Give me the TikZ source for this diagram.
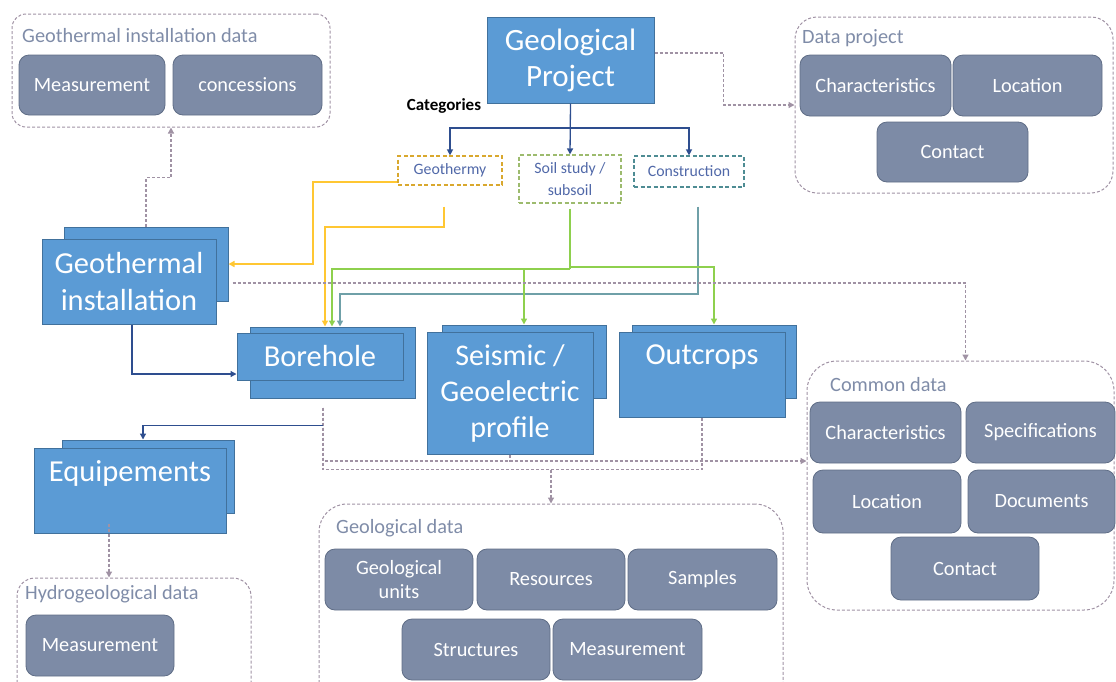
\documentclass[tikz,border=0pt]{standalone}
\usepackage{fontspec}
\setmainfont{Carlito}
\usetikzlibrary{arrows.meta}
\definecolor{bfill}{HTML}{5B9BD5}
\definecolor{bdraw}{HTML}{41719C}
\definecolor{ifill}{HTML}{7D8BA6}
\definecolor{idraw}{HTML}{5F6D86}
\definecolor{cdash}{HTML}{A092A4}
\definecolor{ctitle}{HTML}{7F8CA8}
\definecolor{cattext}{HTML}{5068A8}
\definecolor{bline}{HTML}{2E4E8F}
\definecolor{yline}{HTML}{FFC733}
\definecolor{ybox}{HTML}{D9A82E}
\definecolor{gline}{HTML}{8ED04E}
\definecolor{gbox}{HTML}{9DBB6E}
\definecolor{tline}{HTML}{6FA0A8}
\definecolor{tbox}{HTML}{4E8C93}
\tikzset{
  bbox/.style={draw=bdraw, fill=bfill, line width=1pt, inner sep=0pt, text=white, align=center, font=\fontsize{30.5}{37}\selectfont},
  btext/.style={text=white, inner sep=0pt, font=\fontsize{30.5}{37}\selectfont},
  itembox/.style={draw=idraw, fill=ifill, line width=0.8pt, rounded corners=10pt, inner sep=0pt, text=white, align=center, font=\fontsize{20.3}{24}\selectfont},
  contbox/.style={draw=cdash, line width=1pt, dash pattern=on 3pt off 2pt, rounded corners=20pt, inner sep=0pt},
  conttitle/.style={anchor=west, text=ctitle, inner sep=0pt, font=\fontsize{20.3}{22}\selectfont},
  catbox/.style={line width=1.2pt, dash pattern=on 4pt off 2.5pt, inner sep=0pt, text=cattext, align=center, font=\fontsize{15.8}{22}\selectfont},
  tip/.style={-{Triangle[length=6pt,width=6pt]}},
  bluecon/.style={draw=bline, line width=1.3pt, tip},
  yellowcon/.style={draw=yline, line width=2pt, tip},
  greencon/.style={draw=gline, line width=2pt, tip},
  tealcon/.style={draw=tline, line width=2pt, tip},
  graycon/.style={draw=cdash, line width=1.3pt, dash pattern=on 3pt off 2pt},
}
\begin{document}
\begin{tikzpicture}[x=1pt,y=-1pt]
\useasboundingbox (0,0) rectangle (1116,681);
\clip (0,0) rectangle (1116,681);

% containers
\node[contbox, minimum width=318, minimum height=113, rounded corners=14pt] (gid) at (171,70.5) {};
\node[conttitle] (gidT) at (22,36) {Geothermal installation data};
\node[itembox, minimum width=146, minimum height=60] (gidM) at (92,85) {Measurement};
\node[itembox, minimum width=149, minimum height=60] (gidC) at (247.5,85) {concessions};

\node[contbox, minimum width=318, minimum height=176, rounded corners=22pt] (dp) at (954,105) {};
\node[conttitle] (dpT) at (802,38) {Data project};
\node[itembox, minimum width=151, minimum height=61] (dpCh) at (875.5,85.5) {Characteristics};
\node[itembox, minimum width=149, minimum height=61] (dpL) at (1027.5,85.5) {Location};
\node[itembox, minimum width=151, minimum height=60] (dpCo) at (952.5,152) {Contact};

\node[contbox, minimum width=307, minimum height=249, rounded corners=30pt] (cd) at (960.5,485.5) {};
\node[conttitle] (cdT) at (830,385) {Common data};
\node[itembox, minimum width=151, minimum height=61] (cdCh) at (885.5,432.5) {Characteristics};
\node[itembox, minimum width=149, minimum height=61] (cdS) at (1040.5,432.5) {Specifications};
\node[itembox, minimum width=148, minimum height=63] (cdL) at (887,501.5) {Location};
\node[itembox, minimum width=147, minimum height=63] (cdD) at (1041.5,501.5) {Documents};
\node[itembox, minimum width=148, minimum height=63] (cdCo) at (965,568.5) {Contact};

\node[contbox, minimum width=464, minimum height=216, rounded corners=28pt] (gd) at (551,612) {};
\node[conttitle] (gdT) at (336,528) {Geological data};
\node[itembox, minimum width=148, minimum height=61] (gdU) at (399,579.5) {Geological\\units};
\node[itembox, minimum width=148, minimum height=61] (gdR) at (551,579.5) {Resources};
\node[itembox, minimum width=149, minimum height=61] (gdS) at (702.5,579.5) {Samples};
\node[itembox, minimum width=148, minimum height=61] (gdSt) at (476,649.5) {Structures};
\node[itembox, minimum width=149, minimum height=61] (gdM) at (627.5,649.5) {Measurement};

\node[contbox, minimum width=234, minimum height=142, rounded corners=18pt] (hd) at (134,649) {};
\node[conttitle] (hdT) at (25,594) {Hydrogeological data};
\node[itembox, minimum width=148, minimum height=61] (hdM) at (100,645.5) {Measurement};

% blue boxes
\node[bbox, minimum width=167, minimum height=86, font=\fontsize{31}{36}\selectfont] (proj) at (570.5,60) {Geological\\Project};

\node[bbox, minimum width=164, minimum height=74] (giB) at (146,264) {};
\node[bbox, minimum width=174, minimum height=85] (giF) at (129,281.5) {Geothermal\\installation};

\node[bbox, minimum width=165, minimum height=71] (boreB) at (332.5,362.5) {};
\node[bbox, minimum width=166, minimum height=47] (boreF) at (320,356.5) {Borehole};

\node[bbox, minimum width=164, minimum height=73] (seisB) at (524,361.5) {};
\node[bbox, minimum width=166, minimum height=122, font=\fontsize{30}{36}\selectfont] (seisF) at (510,393) {Seismic /\\Geoelectric\\profile};

\node[bbox, minimum width=164, minimum height=73] (outB) at (714,361.5) {};
\node[bbox, minimum width=166, minimum height=85] (outF) at (702,374.5) {};
\node[btext] (outT) at (702,357) {Outcrops};

\node[bbox, minimum width=172, minimum height=73] (eqB) at (148,476.5) {};
\node[bbox, minimum width=192, minimum height=85] (eqF) at (130,490.5) {};
\node[btext] (eqT) at (130,473) {Equipements};

% categories
\node[font=\bfseries\fontsize{17}{18}\selectfont, inner sep=0pt] (catL) at (444,106) {Categories};
\node[catbox, draw=ybox, minimum width=104, minimum height=29] (geo) at (450,170.5) {Geothermy};
\node[catbox, draw=gbox, minimum width=102, minimum height=48] (soil) at (570,179) {Soil study /\\subsoil};
\node[catbox, draw=tbox, minimum width=110, minimum height=31] (constr) at (689,171.5) {Construction};

% blue category connectors
\coordinate (cj) at (570.5,128);
\draw[bluecon] (proj.south) -- (soil.north);
\draw[bluecon] (cj) -| (geo.north);
\draw[bluecon] (cj) -| (constr.north);

% yellow
\draw[yellowcon] ([yshift=4pt]geo.south west) -| (313,264) -- (giB.east);
\draw[yellowcon] ([shift={(-6,21)}]geo.south) -- ++(0,20) -| ([xshift=-7.5pt]boreB.north);

% teal
\draw[tealcon] ([shift={(9,19)}]constr.south) -- ++(0,87) -| ([xshift=7.5pt]boreB.north);

% green
\draw[draw=gline, line width=2pt] ([yshift=-5pt]soil.south) -- ++(0,60) coordinate (gj);
\draw[greencon] (gj) -| ([xshift=-0.5pt]boreB.north);
\draw[greencon] ([yshift=2pt]gj) -| (outB.north);
\draw[greencon] (seisB.north |- gj) -- (seisB.north);

% gray dashed connectors
\draw[graycon, tip] ([yshift=7pt]proj.east) -- ++(69,0) |- (dp.west);
\draw[graycon, tip] (giB.north) -- ++(0,-49) -| (gid.south);
\draw[graycon, tip] ([shift={(4,19)}]giB.east) -| ([xshift=5pt]cd.north);
\coordinate (bs) at ([shift={(-9.5,9)}]boreB.south);
\draw[graycon, tip] (bs) |- ([yshift=24.5pt]cd.west);
\draw[graycon] (bs) -- ++(0,62) coordinate (hj) -| (outF.south);
\draw[graycon] (seisF.south) -- ++(0,7);
\draw[graycon, tip] (gd.north |- hj) -- (gd.north);
\draw[graycon, tip] ([shift={(-21,-10)}]eqF.south) -- ([xshift=-25pt]hd.north);

% blue connectors
\draw[bluecon] ([xshift=3pt]giF.south) |- ([yshift=-17.5pt]boreF.west);
\coordinate (bj) at ([shift={(-9.5,27)}]boreB.south);
\draw[bluecon] (bj) -| ([xshift=-5pt]eqB.north);
\end{tikzpicture}
\end{document}
